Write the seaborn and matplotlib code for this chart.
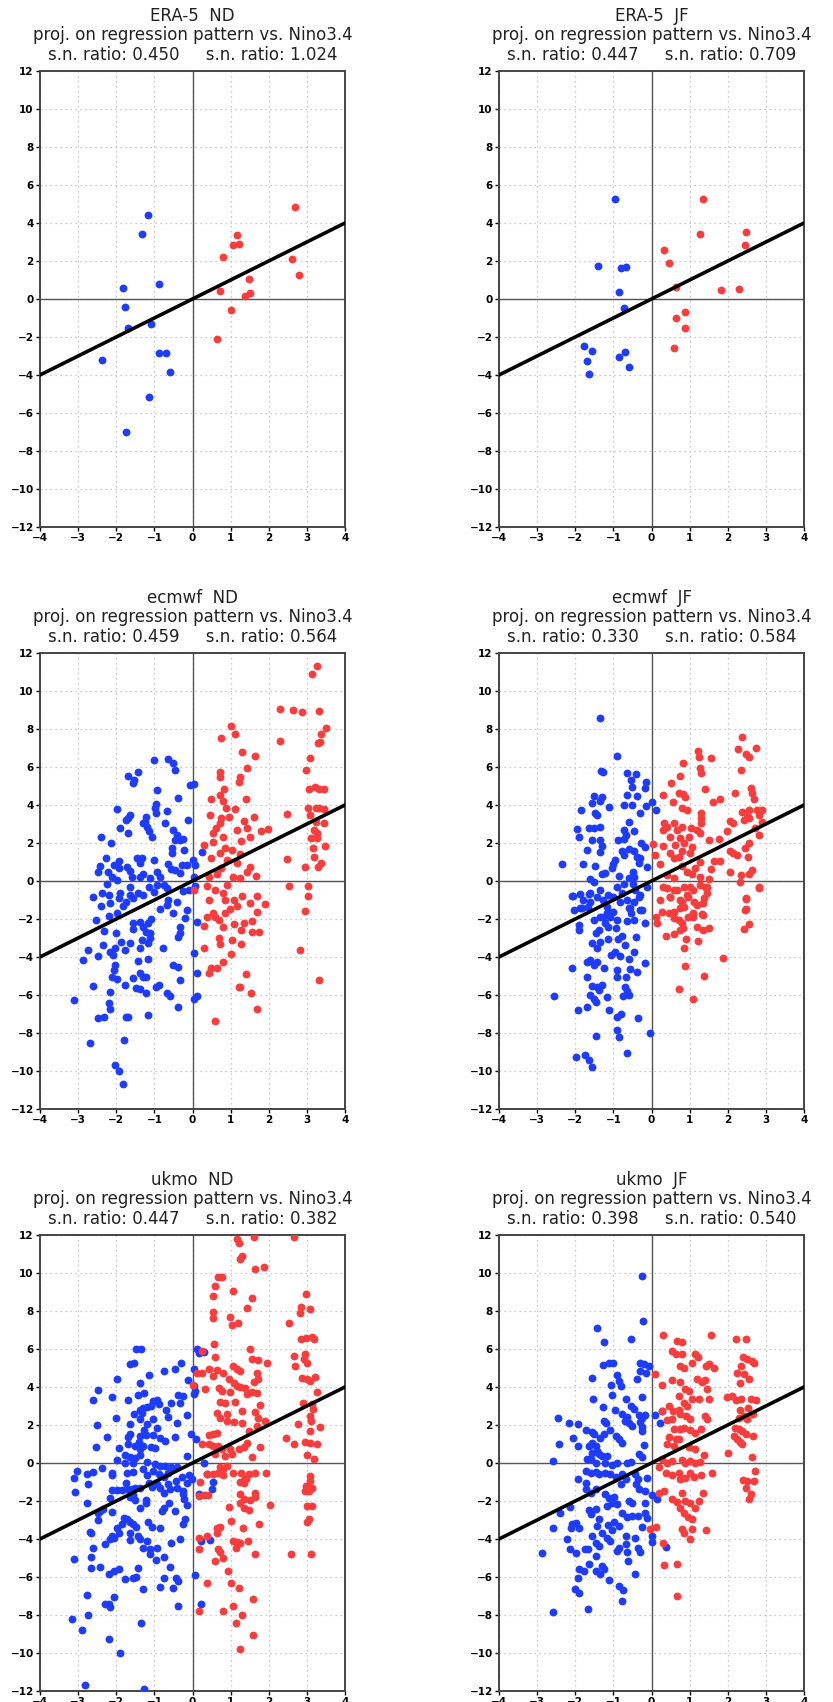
import matplotlib
matplotlib.use("Agg")
import matplotlib.pyplot as plt
import seaborn as sns
import pandas as pd

sns.set_style("white")
plt.rcParams['font.family'] = ['DejaVu Sans']

# panel titles
models = ["ERA-5", "ERA-5", "ecmwf", "ecmwf", "ukmo", "ukmo"]
seasons = ["ND", "JF", "ND", "JF", "ND", "JF"]
sn_left = ["0.450", "0.447", "0.459", "0.330", "0.447", "0.398"]
sn_right = ["1.024", "0.709", "0.564", "0.584", "0.382", "0.540"]

# reference line (slope 1)
ref_x = [-4, 4]
ref_y = [-4, 4]

x_ticks = [-4, -3, -2, -1, 0, 1, 2, 3, 4]
y_ticks = [-12, -10, -8, -6, -4, -2, 0, 2, 4, 6, 8, 10, 12]

# ---- ERA-5 ND
era_nd_blue = [(-1.18, 4.40), (-1.32, 3.44), (-1.81, 0.60), (-0.88, 0.77), (-1.76, -0.44),
               (-1.68, -1.51), (-1.08, -1.33), (-2.37, -3.19), (-0.89, -2.86), (-0.70, -2.86),
               (-0.59, -3.82), (-1.15, -5.18), (-1.75, -7.0)]
era_nd_red = [(2.68, 4.82), (1.16, 3.35), (1.07, 2.82), (1.22, 2.89), (0.79, 2.19), (2.61, 2.12),
              (2.79, 1.25), (1.49, 1.04), (0.72, 0.40), (1.38, 0.14), (1.51, 0.30), (1.00, -0.60),
              (0.64, -2.09)]

# ---- ERA-5 JF
era_jf_blue = [(-0.95, 5.25), (-1.41, 1.75), (-0.80, 1.65), (-0.67, 1.67), (-0.84, 0.35),
               (-0.72, -0.49), (-1.78, -2.49), (-1.57, -2.72), (-1.70, -3.26), (-1.65, -3.96),
               (-0.86, -3.05), (-0.69, -2.81), (-0.59, -3.58)]
era_jf_red = [(1.36, 5.26), (1.27, 3.40), (2.49, 3.53), (2.46, 2.86), (0.33, 2.60), (0.46, 1.89),
              (0.65, 0.61), (1.81, 0.46), (2.30, 0.51), (0.88, -0.70), (0.65, -1.02), (0.89, -1.51),
              (0.58, -2.58)]

# ---- ecmwf ND
ec_nd_blue = [(-1.01, 6.35), (-0.63, 6.44), (-0.52, 6.19), (-0.47, 5.84), (-1.68, 5.54), (-1.43, 5.75),
              (-1.54, 5.32), (-1.57, 5.14), (0.03, 5.09), (-0.06, 5.05), (-0.94, 4.77), (-0.37, 4.37),
              (-0.97, 4.05), (-0.99, 3.82), (-0.96, 3.56), (-1.99, 3.81), (-0.67, 3.67), (-1.64, 3.47),
              (-1.69, 3.30), (-1.74, 3.21), (-1.22, 3.39), (-1.24, 3.12), (-1.19, 2.86), (-1.30, 3.04),
              (-0.11, 3.21), (-1.90, 2.81), (-0.73, 3.04), (-1.70, 2.54), (-1.15, 2.65), (-1.07, 2.33),
              (-2.40, 2.33), (-2.13, 1.98), (-0.50, 2.68), (-0.41, 2.42), (-0.45, 2.16), (-0.32, 2.16),
              (-0.24, 2.21), (-0.54, 1.72), (-0.54, 1.46), (-0.22, 1.63), (0.26, 1.54), (-1.46, 1.19),
              (-1.33, 1.19), (-1.39, 0.93), (-2.27, 1.19), (-1.94, 1.07), (-2.05, 0.84), (-1.94, 0.67),
              (-2.42, 0.81), (-2.47, 0.49), (-2.21, 0.49), (-2.12, 0.23), (-1.97, 0.05), (-1.72, 0.75),
              (-1.63, 0.54), (-1.59, 0.23), (-1.01, 1.11), (-0.94, 0.49), (-0.63, 0.89), (-0.57, 0.61),
              (-1.29, 0.37), (-1.37, 0.23), (-1.11, 0.14), (-0.85, 0.23), (-0.28, 0.84), (-0.15, 0.84),
              (0.01, 1.11), (0.07, 0.84), (-0.45, 0.58), (-0.32, 0.44), (0.03, 0.23),
              (-2.25, -0.16), (-2.60, -0.82), (-2.38, -0.65), (-2.20, -0.74), (-2.16, -1.18), (-1.90, -0.65),
              (-1.94, -0.91), (-1.64, -0.30), (-1.64, -0.74), (-1.74, -1.09), (-1.55, -0.91), (-1.42, -0.65),
              (-1.29, -0.74), (-2.40, -1.32), (-1.81, -1.32), (-1.15, -0.30), (-1.02, -0.56), (-0.94, -0.21),
              (-0.74, -0.21), (-0.67, -0.39), (-0.63, -1.0), (-0.85, -1.49), (-0.67, -1.26), (-0.50, -1.70),
              (-0.41, -1.09), (-0.15, -1.53), (-0.19, -1.96), (0.11, -2.14), (-2.53, -2.05), (-2.18, -1.86),
              (-1.97, -1.70), (-1.37, -2.14), (-1.57, -2.23), (-1.57, -2.54), (-1.29, -2.40), (-1.16, -2.23),
              (-1.08, -2.02), (-1.21, -2.67), (-1.12, -2.75), (-2.33, -2.61), (-2.00, -2.75), (-0.34, -2.40),
              (-0.32, -2.75), (-0.37, -2.96), (-2.35, -3.37), (-1.88, -3.19), (-1.77, -3.63), (-1.64, -3.28),
              (-1.39, -3.54), (-1.33, -3.11), (-1.18, -3.28), (-1.11, -3.02), (-2.73, -3.63), (-2.49, -3.93),
              (-2.16, -3.72), (-2.09, -3.89), (-2.03, -3.54), (-2.03, -4.42), (-2.07, -4.68), (-2.11, -5.04),
              (-1.98, -5.18), (-2.86, -4.16), (-1.42, -4.19), (-1.18, -4.09), (-0.78, -3.54), (0.03, -3.81),
              (-0.50, -4.42), (-0.37, -4.54), (0.11, -4.86), (-1.37, -4.82), (-1.30, -5.07), (-1.21, -5.07),
              (-1.55, -5.12), (-0.32, -5.21), (-0.89, -5.47), (-0.95, -5.56), (-2.62, -5.53), (-1.77, -5.47),
              (-1.49, -5.61), (-1.39, -5.70), (-1.23, -5.91), (-2.16, -5.86), (-0.67, -5.91), (-0.60, -6.04),
              (0.04, -6.23), (0.11, -6.05), (-3.12, -6.26), (-2.20, -6.40), (-2.16, -6.75), (-0.38, -6.61),
              (-2.49, -7.23), (-2.33, -7.18), (-1.74, -7.18), (-1.68, -7.14), (-1.17, -7.05), (-2.69, -8.51),
              (-1.79, -8.37), (-2.03, -9.68), (-1.94, -9.98), (-1.83, -10.68), (-0.10, -0.45), (0.06, -0.25),
              (-0.25, -0.55)]
ec_nd_red = [(3.26, 11.33), (3.13, 10.88), (2.30, 9.07), (2.63, 9.0), (2.86, 8.91), (3.32, 8.96),
             (3.49, 8.04), (3.37, 7.74), (3.29, 7.28), (3.35, 7.33), (2.30, 7.35), (3.07, 6.49),
             (2.99, 5.84), (1.00, 8.18), (1.11, 7.74), (0.76, 7.54), (1.29, 6.81), (1.64, 6.6),
             (1.43, 5.96), (0.73, 5.72), (0.73, 5.49), (1.24, 5.49), (1.23, 5.23), (0.83, 4.82),
             (0.72, 4.53), (0.48, 4.30), (0.80, 4.19), (0.89, 3.82), (1.11, 3.79), (1.41, 4.30),
             (0.46, 3.47), (0.75, 3.30), (0.95, 3.39), (0.71, 3.07), (0.62, 2.81), (1.34, 3.16),
             (1.60, 3.35), (1.42, 2.81), (1.16, 2.68), (1.80, 2.63), (1.99, 2.72), (1.50, 2.33),
             (0.55, 2.51), (0.81, 2.33), (1.28, 2.11), (0.53, 2.07), (0.29, 1.89), (0.86, 1.72),
             (1.03, 1.63), (0.73, 1.46), (1.25, 1.40), (0.48, 1.19), (0.90, 1.11), (1.16, 0.93),
             (1.51, 0.72), (0.75, 0.67), (1.43, 0.49), (1.67, 0.26), (0.64, 0.35), (1.06, 0.23),
             (1.25, 0.14), (0.42, 0.23), (2.48, 3.53), (3.03, 3.86), (3.24, 3.82), (3.33, 3.82),
             (3.46, 3.77), (3.05, 4.82), (3.21, 4.96), (3.33, 4.82), (3.45, 4.84), (3.09, 3.47),
             (3.24, 3.12), (3.44, 3.04), (3.18, 2.68), (3.27, 2.51), (3.11, 2.28), (3.27, 2.25),
             (3.48, 1.86), (3.15, 1.72), (3.18, 1.28), (3.37, 0.93), (2.48, 1.16), (2.96, 0.72),
             (3.29, 0.75),
             (0.38, -0.26), (0.59, -0.47), (0.80, -0.65), (0.90, -0.21), (2.52, -0.26), (3.03, -0.25),
             (3.02, -0.79), (1.31, -0.77), (1.51, -1.18), (1.69, -0.79), (1.91, -1.23), (1.17, -1.32),
             (0.99, -1.49), (0.86, -1.67), (0.55, -1.70), (1.69, -1.65), (2.96, -1.58), (0.38, -1.88),
             (0.69, -2.05), (1.08, -2.28), (1.35, -2.23), (1.56, -2.09), (0.29, -2.35), (0.81, -2.40),
             (1.28, -2.58), (1.56, -2.67), (1.75, -2.70), (0.69, -3.02), (1.03, -3.11), (1.28, -3.33),
             (0.73, -3.33), (0.29, -3.54), (1.01, -3.86), (0.80, -4.25), (0.64, -4.60), (0.42, -4.86),
             (0.49, -4.60), (2.83, -3.61), (1.40, -4.89), (1.21, -5.56), (1.25, -5.6), (1.53, -5.88),
             (3.33, -5.23), (1.69, -6.72), (0.59, -7.35), (0.03, -0.47), (0.42, -1.0), (0.59, -1.88),
             (0.86, -1.0), (1.08, -1.0)]

# ---- ecmwf JF
ec_jf_blue = [(-1.34, 8.60), (-0.90, 6.58), (-1.32, 5.79), (-1.26, 5.75), (-0.65, 5.70), (-0.41, 5.61),
              (-0.54, 5.32), (-0.50, 4.93), (-0.15, 5.23), (-0.16, 4.91), (-0.65, 4.53), (-0.38, 4.47),
              (-1.50, 4.47), (-1.29, 4.44), (-1.36, 4.21), (-1.55, 4.09), (-1.86, 3.72), (-1.11, 3.88),
              (-0.72, 3.98), (-0.52, 4.02), (0.01, 4.18), (-0.15, 3.95), (0.11, 3.74), (-1.48, 3.56),
              (-1.42, 3.47), (-0.31, 3.56), (-1.96, 2.72), (-1.91, 2.30), (-1.65, 2.77), (-1.50, 2.77),
              (-1.36, 2.84), (-0.59, 3.12), (-0.45, 2.65), (-0.73, 2.68), (-0.66, 2.42), (-0.72, 2.21),
              (-1.56, 2.16), (-1.35, 2.16), (-1.29, 1.84), (-0.88, 2.16), (-0.27, 2.02), (-0.17, 1.81),
              (-1.70, 1.63), (-1.35, 1.51), (-0.58, 1.67), (-0.47, 1.60), (-0.38, 1.28), (-0.77, 1.60),
              (-0.73, 1.37), (-0.30, 1.19), (-0.34, 0.93), (-0.12, 0.75), (-2.34, 0.89), (-1.80, 0.89),
              (-1.48, 0.81), (-0.95, 1.11), (-1.0, 0.88), (-1.04, 0.67), (-1.22, 0.44), (-1.30, 0.37),
              (-1.61, 0.09), (-1.50, -0.04), (-0.86, 0.26), (-0.60, 0.14), (-0.49, 0.49), (-0.45, 0.23),
              (-2.07, -0.79), (-1.88, -0.68), (-1.79, -1.0), (-1.61, -0.65), (-1.66, -1.35), (-1.83, -1.44),
              (-2.03, -1.53), (-1.35, -0.47), (-1.26, -1.0), (-1.17, -1.35), (-1.0, -0.82), (-0.91, -0.30),
              (-0.78, -0.65), (-0.65, -1.0), (-0.56, -1.44), (-0.43, -0.47), (-0.34, -0.82), (-0.30, -1.53),
              (-0.12, -0.30), (-1.08, -1.70), (-1.26, -1.88), (-2.09, -0.79), (-1.87, -1.44), (-1.91, -2.32),
              (-1.89, -2.58), (-1.65, -0.68), (-1.61, -1.09), (-1.43, -0.82), (-1.13, -0.74), (-0.73, -0.16),
              (-0.49, -0.18), (-0.82, -1.09), (-0.60, -1.44), (-0.47, -1.09), (-0.30, -0.74), (-0.25, -1.53),
              (-0.54, -1.70), (-1.52, -2.05), (-1.35, -1.88), (-1.17, -1.70), (-1.08, -1.88), (-1.0, -1.61),
              (-0.91, -2.05), (-1.22, -2.23), (-1.14, -2.40), (-1.39, -2.58), (-1.45, -2.75), (-1.57, -3.28),
              (-1.43, -3.54), (-1.35, -3.19), (-0.65, -2.09), (-0.47, -2.05), (-0.40, -2.96), (-0.17, -2.23),
              (-0.93, -2.49), (-1.13, -3.05), (-0.87, -3.05), (-0.78, -2.88), (-0.69, -3.37), (-0.95, -3.72),
              (-1.06, -3.89), (-0.82, -3.93), (-0.47, -3.72), (-0.60, -4.12), (-1.61, -4.16), (-1.43, -4.25),
              (-1.68, -4.25), (-1.52, -4.42), (-1.24, -4.60), (-0.17, -4.33), (-0.56, -4.65), (-0.38, -4.77),
              (-0.91, -4.68), (-0.91, -5.07), (-0.68, -5.07), (-2.08, -4.56), (-1.70, -5.04), (-1.57, -5.53),
              (-1.43, -5.56), (-1.30, -5.49), (-1.39, -5.74), (-0.69, -5.60), (-0.65, -5.77), (-0.58, -5.98),
              (-0.75, -6.05), (-1.61, -6.0), (-1.52, -6.23), (-1.45, -6.35), (-1.16, -6.12), (-2.55, -6.05),
              (-1.92, -6.81), (-1.68, -6.61), (-1.11, -6.79), (-0.91, -7.14), (-0.80, -7.0), (-0.36, -7.21),
              (-0.91, -7.82), (-0.85, -8.23), (-1.45, -8.14), (-0.04, -8.0), (-0.64, -9.04), (-1.98, -9.25),
              (-1.74, -9.14), (-1.64, -9.42), (-1.55, -9.81)]
ec_jf_red = [(2.38, 7.60), (2.27, 6.93), (2.75, 6.98), (2.48, 6.68), (2.55, 6.54), (1.23, 6.86), (1.24, 6.54),
             (1.55, 6.47), (0.82, 6.19), (1.28, 5.93), (1.29, 5.67), (2.35, 5.84), (0.75, 5.54), (0.52, 5.16),
             (1.40, 4.84), (0.31, 4.53), (0.71, 4.65), (0.82, 4.58), (0.87, 4.44), (1.80, 4.33), (1.61, 4.16),
             (2.20, 4.65), (2.61, 4.91), (2.63, 4.61), (2.68, 4.30), (0.56, 4.18), (0.80, 3.82), (0.93, 3.74),
             (1.30, 3.60), (1.31, 3.30), (1.31, 3.07), (2.37, 3.65), (2.57, 3.74), (2.50, 3.47), (2.76, 3.74),
             (2.90, 3.74), (2.81, 3.47), (2.55, 3.30), (2.43, 3.21), (2.06, 3.18), (2.15, 3.04), (2.90, 3.12),
             (2.72, 2.77), (2.81, 2.42), (0.33, 3.07), (0.31, 2.68), (0.40, 2.86), (0.58, 3.07), (0.66, 2.68),
             (0.80, 2.86), (1.04, 2.77), (1.19, 2.68), (1.28, 2.51), (0.99, 2.30), (1.98, 2.63), (1.78, 2.23),
             (1.50, 2.16), (0.49, 2.33), (0.75, 2.25), (0.84, 2.02), (0.05, 1.93), (0.31, 1.84), (0.62, 1.89),
             (2.55, 1.98), (2.46, 1.72), (2.06, 1.60), (2.15, 1.46), (2.25, 1.37), (2.52, 1.28), (1.06, 1.81),
             (1.02, 1.46), (0.80, 1.60), (0.49, 1.46), (0.58, 1.19), (0.71, 1.28), (0.10, 1.35), (0.23, 0.89),
             (1.63, 1.05), (1.80, 1.05), (1.26, 1.02), (1.15, 0.70), (0.80, 0.81), (0.93, 0.49), (1.06, 0.37),
             (1.56, 0.61), (2.06, 0.49), (2.36, 0.30), (1.28, 0.23), (1.50, 0.09), (0.40, 0.32), (0.58, 0.14),
             (2.63, 0.58), (2.57, 0.37),
             (0.31, -0.30), (0.58, -0.47), (0.84, -0.33), (1.10, -0.47), (1.28, -0.21), (1.45, -0.30),
             (2.33, -0.04), (2.81, -0.33), (2.48, -0.91), (2.48, -1.49), (0.23, -1.0), (0.49, -0.82),
             (0.80, -1.09), (0.97, -0.82), (1.19, -1.26), (1.38, -0.91), (1.45, -0.65), (0.58, -1.61),
             (0.75, -1.44), (1.10, -1.70), (1.36, -1.79), (0.14, -2.23), (0.12, -1.88), (0.27, -1.61),
             (0.38, -2.89), (0.58, -2.81), (0.47, -1.70), (0.58, -1.96), (0.71, -2.05), (0.80, -2.23),
             (0.82, -2.49), (0.75, -2.58), (0.91, -3.07), (0.84, -3.53), (0.97, -1.88), (1.10, -1.88),
             (1.19, -2.44), (1.35, -2.58), (1.51, -2.49), (1.23, -3.16), (1.32, -1.75), (1.12, -1.12),
             (1.36, -1.16), (2.47, -0.95), (2.46, -1.53), (2.55, -2.26), (2.42, -2.53), (2.81, -0.37),
             (1.87, -4.04), (0.87, -4.49), (1.39, -5.02), (0.73, -5.67), (1.10, -6.21), (1.41, -0.30),
             (1.01, -0.30), (0.66, -0.47), (0.40, -0.39), (0.49, -0.82), (0.75, -1.0), (0.93, -0.74),
             (0.84, -1.35)]

# ---- ukmo ND
uk_nd_blue = [(-1.49, 6.02), (-1.35, 5.98), (0.11, 5.98), (0.16, 5.77), (0.31, 5.84), (-1.64, 5.19),
              (-1.53, 5.28), (-0.30, 5.28), (-0.46, 4.93), (-0.76, 4.84), (0.04, 4.96), (-1.13, 4.61),
              (-1.97, 4.44), (-1.37, 4.19), (-0.13, 4.37), (0.05, 4.05), (0.07, 3.79), (0.03, 3.61),
              (-2.47, 3.82), (-2.60, 3.30), (-2.12, 3.47), (-1.68, 3.32), (-1.42, 3.56), (-1.27, 3.68),
              (-0.94, 3.30), (-0.89, 3.09), (-1.03, 3.26), (-1.08, 3.02), (-1.20, 2.96), (-1.30, 2.91),
              (-1.37, 2.79), (-0.37, 3.56), (-0.24, 3.53), (-0.32, 3.18), (-0.57, 3.18), (-0.70, 2.77),
              (-1.53, 2.58), (-1.33, 2.61), (-1.37, 2.30), (-0.15, 2.53), (-2.00, 2.39), (-0.63, 2.44),
              (-0.41, 2.12), (-1.03, 2.33), (-0.92, 1.86), (-1.20, 2.04), (-1.26, 1.74), (-1.22, 1.47),
              (-1.65, 2.04), (-2.50, 1.98), (-2.23, 1.39), (-1.68, 1.39), (-1.64, 1.51), (-1.37, 1.42),
              (-1.41, 1.11), (-1.29, 0.89), (-1.03, 1.47), (-0.85, 1.33), (-0.72, 1.16), (-1.08, 0.86),
              (-0.98, 0.81), (-0.47, 1.39), (-0.03, 1.54), (0.10, 1.25), (-2.53, 0.84), (-1.94, 0.81),
              (-1.68, 0.98), (-1.52, 0.89), (-1.37, 0.75), (-1.78, 0.44), (-1.64, 0.33), (-1.50, 0.28),
              (-1.37, 0.40), (-1.97, 0.16), (-1.77, -0.02), (-1.55, -0.02), (-0.15, 0.37), (-1.20, 0.05),
              (-0.98, -0.07), (-0.85, -0.16), (-0.72, -0.16), (-0.57, -0.19), (-0.41, -0.19), (0.29, -0.02),
              (-3.12, -0.77), (-3.03, -0.42), (-2.77, -0.60), (-2.62, -0.47), (-2.38, -0.28), (-2.12, -0.51),
              (-2.12, -0.65), (-1.72, -0.51), (-1.55, -0.47), (-1.29, -0.33), (-1.20, -0.65), (-1.03, -0.42),
              (-0.89, -0.60), (-0.74, -0.72), (-0.63, -0.54), (-0.28, -0.72), (-0.10, -0.65), (-0.02, -0.86),
              (-0.15, -1.04), (0.38, -0.60), (0.55, -1.0), (-3.08, -1.53), (-2.75, -1.12), (-2.77, -2.12),
              (-2.12, -1.42), (-1.99, -1.44), (-1.85, -1.42), (-1.74, -1.04), (-1.72, -1.39), (-1.59, -1.39),
              (-1.50, -1.30), (-1.37, -1.30), (-1.57, -1.70), (-1.50, -1.95), (-1.65, -1.77), (-1.15, -1.07),
              (-1.07, -1.25), (-0.94, -1.12), (-0.85, -1.30), (-0.76, -1.56), (-0.63, -1.12), (-0.59, -1.35),
              (-0.43, -0.95), (-0.41, -1.33), (-0.24, -1.47), (-0.25, -1.65), (-0.21, -1.91), (-0.15, -2.23),
              (0.16, -1.65), (0.51, -1.35), (-2.16, -1.82), (-1.22, -1.95), (-1.22, -2.12), (-1.37, -2.35),
              (-0.61, -2.09), (-0.76, -2.35), (-0.80, -2.53), (-0.47, -2.53), (-2.34, -2.44), (-2.43, -2.53),
              (-2.47, -2.61), (-2.12, -2.58), (-1.80, -2.88), (-1.72, -2.96), (-1.64, -3.11), (-1.55, -3.23),
              (-1.47, -3.35), (-1.85, -3.23), (-1.99, -3.40), (-1.94, -3.67), (-0.19, -2.96), (-0.24, -3.23),
              (-2.47, -3.0), (-2.69, -3.63), (-2.65, -3.70), (-2.12, -3.84), (-2.07, -3.95), (-2.16, -4.02),
              (-2.29, -4.28), (-1.64, -3.70), (-1.64, -4.05), (-1.42, -3.84), (-1.39, -4.02), (-1.17, -3.11),
              (-1.07, -3.35), (-0.85, -3.44), (-1.20, -4.11), (-0.94, -4.46), (-1.12, -4.51), (-1.29, -4.46),
              (-1.12, -4.77), (-0.57, -4.19), (-0.32, -4.02), (0.23, -4.12), (0.46, -4.07), (-2.60, -4.49),
              (-2.66, -4.95), (-3.11, -5.07), (-2.65, -5.51), (-2.42, -5.46), (-2.18, -5.82), (-2.05, -5.68),
              (-1.92, -5.60), (-1.44, -5.51), (-0.95, -5.12), (-0.74, -4.95), (-0.59, -5.46), (-1.77, -6.12),
              (-1.55, -6.05), (-1.48, -6.0), (-0.74, -6.05), (-0.43, -6.05), (-0.37, -6.21), (0.06, -5.91),
              (-1.29, -6.61), (-0.84, -6.51), (-0.52, -6.56), (-2.77, -6.95), (-2.07, -7.04), (-2.29, -7.44),
              (-2.20, -7.40), (-2.16, -7.58), (-0.38, -7.53), (0.23, -7.44), (-2.73, -8.02), (-3.17, -8.23),
              (-1.35, -8.40), (-2.89, -8.79), (-2.19, -9.25), (-1.90, -9.98), (-2.82, -11.70), (-1.27, -11.88)]
uk_nd_red = [(1.17, 11.77), (1.21, 11.60), (1.62, 11.89), (2.67, 11.89), (1.25, 10.75), (1.31, 10.89),
             (1.65, 10.19), (1.87, 10.33), (0.68, 9.79), (0.78, 9.79), (0.59, 9.30), (1.05, 9.04),
             (0.55, 8.77), (2.98, 8.89), (1.57, 8.70), (2.85, 8.21), (3.07, 8.12), (2.83, 7.91),
             (0.55, 7.95), (0.55, 7.63), (1.43, 8.14), (0.99, 7.70), (1.03, 7.25), (1.20, 7.35),
             (2.52, 7.39), (2.85, 6.51), (2.98, 6.60), (3.13, 6.65), (3.18, 6.51), (0.57, 6.25),
             (0.24, 5.89), (0.60, 5.58), (1.52, 5.98), (1.57, 5.49), (1.73, 5.40), (1.95, 5.28),
             (2.65, 5.63), (2.69, 5.11), (2.96, 5.72), (2.92, 5.46), (3.0, 5.28), (1.06, 5.11),
             (1.16, 4.93), (1.25, 4.82), (0.42, 4.96), (0.64, 4.88), (0.79, 4.75), (0.11, 4.75),
             (0.26, 4.75), (0.53, 4.58), (0.96, 4.44), (1.69, 4.75), (1.73, 4.40), (2.87, 4.49),
             (3.0, 4.40), (3.09, 4.32), (3.22, 4.54), (0.0, 4.09), (0.33, 3.88), (0.69, 3.93),
             (0.77, 3.79), (1.08, 4.23), (1.16, 4.05), (1.25, 4.0), (0.99, 3.75), (1.38, 3.93),
             (1.62, 4.26), (1.55, 3.75), (1.68, 3.70), (1.43, 3.61), (3.26, 3.74), (2.90, 3.18),
             (3.13, 3.09), (3.17, 2.82), (0.73, 3.21), (0.86, 3.18), (1.12, 3.23), (1.78, 3.04),
             (1.30, 2.74), (1.64, 2.68), (0.64, 2.65), (0.90, 2.56), (3.09, 2.47), (3.11, 2.21),
             (1.73, 2.39), (1.69, 1.95), (1.90, 2.21), (0.73, 2.39), (0.90, 2.21), (1.08, 2.16),
             (1.30, 2.12), (2.77, 2.07), (3.35, 1.89), (3.09, 1.68), (1.48, 1.68), (0.42, 1.47),
             (0.53, 1.51), (0.64, 1.56), (2.46, 1.30), (2.65, 1.02), (2.96, 1.11), (3.09, 1.04),
             (3.26, 1.02), (0.24, 0.98), (0.42, 0.98), (0.55, 0.89), (0.68, 0.89), (0.77, 0.72),
             (0.99, 0.75), (1.21, 0.72), (1.34, 0.84), (1.43, 1.07), (1.78, 0.84), (0.59, 0.46),
             (0.86, 0.37), (1.03, 0.46), (1.55, 0.32), (3.0, 0.40), (3.18, 0.19),
             (0.73, -0.19), (0.90, -0.16), (0.38, -0.60), (0.55, -0.60), (0.68, -0.51), (0.81, -0.33),
             (0.81, -0.65), (1.05, -0.51), (1.28, -0.54), (1.38, -0.77), (1.47, -0.60), (1.64, -0.54),
             (1.93, -0.54), (1.25, -1.0), (1.36, -1.04), (1.41, -0.82), (0.20, -0.98), (3.09, -0.68),
             (3.07, -0.95), (3.13, -1.30), (2.99, -1.21), (2.96, -1.47), (3.05, -1.47), (0.18, -1.74),
             (0.29, -1.70), (0.40, -1.70), (1.25, -1.61), (1.34, -1.91), (1.64, -1.56), (1.64, -1.77),
             (1.50, -1.95), (2.04, -2.21), (0.95, -2.32), (1.24, -2.09), (1.34, -2.35), (1.48, -2.49),
             (3.0, -2.26), (3.13, -2.26), (1.00, -3.05), (3.0, -3.09), (3.05, -2.96), (1.75, -3.23),
             (0.64, -3.40), (0.73, -3.37), (0.64, -3.67), (1.32, -3.44), (0.16, -3.96), (0.38, -3.84),
             (1.05, -4.11), (1.16, -4.14), (1.25, -4.23), (1.14, -4.46), (1.45, -4.12), (0.17, -4.54),
             (0.66, -4.51), (0.73, -4.68), (0.80, -5.0), (0.59, -5.16), (1.65, -4.81), (2.58, -4.81),
             (3.11, -4.77), (0.94, -5.68), (0.38, -6.30), (1.00, -6.30), (1.21, -6.56), (0.17, -7.79),
             (0.81, -7.79), (1.05, -7.53), (1.30, -8.0), (1.14, -8.40), (1.58, -7.18), (1.58, -9.07),
             (1.25, -9.81)]

# ---- ukmo JF
uk_jf_blue = [(-0.24, 9.84), (-0.21, 7.47), (-1.43, 7.12), (-1.24, 6.37), (-0.54, 6.54), (-1.27, 5.14),
              (-1.12, 5.28), (-1.01, 5.25), (-0.29, 5.28), (-0.20, 5.19), (-0.07, 5.11), (-0.29, 4.84),
              (-0.15, 4.75), (-0.37, 4.40), (-1.57, 4.47), (-0.90, 4.61), (-0.86, 4.32), (-0.81, 4.05),
              (-1.05, 4.11), (-1.53, 3.39), (-1.03, 3.56), (-0.68, 3.39), (-0.55, 3.0), (-0.46, 2.86),
              (-0.24, 3.46), (-1.28, 2.95), (-0.97, 2.79), (-0.77, 2.56), (-0.64, 2.44), (-0.70, 2.21),
              (-0.60, 2.12), (-0.51, 1.95), (-0.33, 2.51), (-0.24, 2.39), (-0.16, 2.51), (-0.29, 2.16),
              (-0.24, 1.91), (-0.24, 1.68), (0.08, 2.51), (0.28, 2.74), (0.21, 2.09), (-2.45, 2.35),
              (-2.17, 2.12), (-1.92, 2.07), (-1.25, 2.21), (-1.19, 2.09), (-1.71, 1.74), (-1.57, 1.63),
              (-1.51, 1.51), (-1.08, 1.74), (-0.94, 1.42), (-0.85, 1.28), (-0.78, 1.07), (-1.25, 1.54),
              (-1.34, 1.30), (-2.06, 1.33), (-2.43, 1.0), (-1.93, 0.89), (-1.64, 0.89), (-1.55, 1.07),
              (-1.46, 0.89), (-1.43, 0.63), (-1.55, 0.54), (-1.38, 0.46), (-1.29, 0.37), (-1.16, 0.37),
              (-0.20, 0.95), (-0.33, 0.46), (-0.24, 0.33), (-2.58, 0.11), (-1.69, 0.19), (-1.60, 0.19),
              (-1.46, -0.02), (-1.21, 0.02), (-1.03, -0.12), (-0.90, -0.02), (-0.64, -0.02), (-0.55, 0.05),
              (-1.71, -0.42), (-1.60, -0.51), (-1.46, -0.47), (-1.38, -0.60), (-1.22, -0.51), (-1.08, -0.60),
              (-0.94, -0.72), (-0.77, -0.60), (-0.68, -0.86), (-0.79, -1.12), (-0.42, -0.60), (-0.35, -0.86),
              (-0.40, -1.12), (-0.33, -1.39), (-0.17, -1.47), (-0.11, -0.77), (-1.93, -0.86), (-1.71, -1.04),
              (-1.71, -1.39), (-1.60, -1.56), (-1.46, -1.39), (-1.21, -1.65), (-1.12, -1.82), (-0.99, -1.77),
              (-1.03, -2.09), (-0.90, -2.18), (-1.16, -2.26), (-0.59, -2.0), (-0.52, -2.12), (-0.17, -2.12),
              (0.02, -1.70), (0.15, -1.91), (-2.13, -2.32), (-2.39, -2.61), (-1.65, -2.47), (-1.46, -2.44),
              (-1.60, -2.70), (-1.38, -2.96), (-1.43, -3.32), (-0.77, -2.65), (-0.64, -2.82), (-0.51, -2.79),
              (-0.35, -2.79), (-0.16, -2.65), (-0.11, -2.88), (-0.24, -3.37), (-1.14, -3.28), (-0.99, -3.11),
              (-0.86, -3.32), (-1.03, -3.53), (-1.30, -3.67), (-1.16, -3.93), (-1.08, -4.11), (-2.59, -3.44),
              (-2.08, -3.23), (-1.99, -3.14), (-1.91, -3.40), (-2.10, -3.40), (-2.21, -4.02), (-1.56, -3.84),
              (-1.46, -4.19), (-1.38, -4.37), (-1.46, -4.89), (-0.68, -3.84), (-0.42, -3.93), (-0.68, -4.28),
              (0.0, -3.84), (0.02, -4.16), (0.38, -4.42), (-2.87, -4.72), (-2.13, -4.54), (-1.99, -4.72),
              (-1.75, -4.51), (-1.66, -4.51), (-0.90, -4.63), (-0.86, -4.46), (-0.65, -4.68), (-0.36, -4.46),
              (-0.31, -4.68), (-0.62, -5.16), (-1.91, -5.60), (-1.78, -5.68), (-1.64, -5.33), (-1.46, -5.68),
              (-1.29, -5.42), (-1.25, -5.60), (-1.92, -6.04), (-1.36, -5.86), (-1.12, -6.16), (-0.42, -5.82),
              (-0.86, -6.47), (-0.75, -6.68), (-0.77, -7.26), (-2.01, -6.65), (-1.91, -6.82), (-2.58, -7.84),
              (-1.66, -7.67)]
uk_jf_red = [(0.29, 6.75), (1.57, 6.72), (2.22, 6.54), (2.49, 6.51), (0.66, 6.42), (0.81, 6.39), (0.54, 5.89),
             (0.80, 5.72), (0.63, 5.75), (1.15, 5.72), (1.22, 5.60), (1.05, 5.25), (0.76, 5.11), (0.85, 5.02),
             (1.43, 5.11), (1.63, 5.02), (1.50, 5.19), (2.41, 5.60), (2.51, 5.49), (2.64, 5.37), (2.69, 5.25),
             (2.34, 5.11), (2.25, 4.75), (2.42, 4.67), (2.31, 4.23), (2.55, 4.40), (0.10, 4.67), (0.28, 4.12),
             (0.54, 4.37), (0.76, 4.26), (0.88, 3.88), (0.98, 3.79), (1.20, 4.40), (1.33, 4.26), (1.41, 4.37),
             (1.46, 3.88), (0.72, 3.53), (0.85, 3.18), (0.94, 3.0), (1.07, 3.35), (1.24, 3.39), (1.50, 3.39),
             (1.99, 3.49), (2.12, 3.53), (2.21, 3.32), (2.34, 3.39), (2.60, 3.35), (2.73, 3.32), (0.47, 3.0),
             (0.56, 2.74), (0.72, 2.79), (0.28, 2.74), (0.41, 2.25), (0.54, 2.30), (0.76, 2.56), (0.90, 2.47),
             (1.02, 2.30), (1.41, 2.47), (1.46, 2.30), (1.29, 1.81), (2.54, 2.91), (2.33, 2.77), (2.42, 2.47),
             (2.51, 2.30), (2.29, 2.39), (2.67, 2.56), (2.20, 1.86), (2.29, 1.77), (2.38, 1.68), (2.17, 1.42),
             (2.23, 1.25), (2.31, 1.11), (2.38, 0.98), (2.65, 1.42), (2.47, 1.51), (0.59, 1.81), (0.76, 1.81),
             (0.85, 1.86), (1.02, 1.74), (1.15, 1.60), (0.45, 1.39), (0.63, 1.25), (0.72, 1.25), (0.41, 0.98),
             (0.59, 0.89), (0.98, 0.86), (1.15, 0.75), (1.39, 0.40), (2.0, 0.54), (2.64, 0.33), (0.28, 0.19),
             (0.19, -0.19), (0.41, 0.02), (0.54, 0.11), (0.80, 0.16), (0.89, -0.02), (1.02, 0.11), (1.15, -0.02),
             (1.26, 0.05), (0.37, -0.51), (0.54, -0.65), (0.72, -0.54), (0.76, -0.86), (0.89, -0.77),
             (1.02, -0.51), (1.11, -0.72), (1.29, -0.65), (1.59, -0.54), (2.71, -0.42), (2.69, -0.95),
             (2.51, -0.95), (2.41, -0.89), (2.49, -1.30), (2.60, -1.65), (2.57, -1.91), (1.35, -1.56),
             (0.19, -1.56), (0.32, -1.47), (0.54, -1.88), (0.68, -2.05), (0.80, -1.56), (0.89, -2.0),
             (1.02, -2.09), (1.15, -2.35), (1.24, -2.0), (0.76, -2.35), (0.85, -2.65), (0.96, -2.82),
             (1.07, -2.96), (0.80, -3.49), (0.85, -3.70), (1.05, -3.49), (1.02, -4.02), (1.44, -3.53),
             (-0.03, -3.49), (0.13, -3.35), (0.30, -4.19), (0.34, -5.39), (0.66, -5.33), (0.68, -7.0)]

panels = [(era_nd_blue, era_nd_red), (era_jf_blue, era_jf_red),
          (ec_nd_blue, ec_nd_red), (ec_jf_blue, ec_jf_red),
          (uk_nd_blue, uk_nd_red), (uk_jf_blue, uk_jf_red)]

blue = "#1e3cff"
red = "#fa3c3c"

W, H = 833, 1702
fig = plt.figure(figsize=(W / 100, H / 100), dpi=100)
col_left = [40, 499]
row_top = [71, 653, 1235]
ax_w, ax_h = 305, 456

for i, (neg, pos) in enumerate(panels):
    r, c = divmod(i, 2)
    ax = fig.add_axes([col_left[c] / W, 1 - (row_top[r] + ax_h) / H, ax_w / W, ax_h / H])

    ax.set_xticks(x_ticks)
    ax.set_yticks(y_ticks)
    ax.grid(True, color="#b8b8b8", linestyle=(0, (1, 3)), linewidth=0.9)
    ax.axhline(0, color="#555555", lw=1.0, zorder=1)
    ax.axvline(0, color="#555555", lw=1.0, zorder=1)

    dneg = pd.DataFrame(neg, columns=["x", "y"])
    dpos = pd.DataFrame(pos, columns=["x", "y"])
    sns.scatterplot(data=dneg, x="x", y="y", color=blue, s=32, linewidth=0, ax=ax, zorder=3)
    sns.scatterplot(data=dpos, x="x", y="y", color=red, s=32, linewidth=0, ax=ax, zorder=3)
    sns.lineplot(x=ref_x, y=ref_y, color="black", lw=2.6, ax=ax, zorder=4)

    ax.set_xlim(-4, 4)
    ax.set_ylim(-12, 12)
    ax.set_xlabel("")
    ax.set_ylabel("")
    ax.tick_params(axis="both", direction="out", length=3, width=1, pad=1.5,
                   labelsize=7.5, colors="black", bottom=True, left=True)
    for lab in ax.get_xticklabels() + ax.get_yticklabels():
        lab.set_fontweight("bold")
    for sp in ax.spines.values():
        sp.set_color("#444444")
        sp.set_linewidth(1.4)

    title = (f"{models[i]}  {seasons[i]}\n"
             f"proj. on regression pattern vs. Nino3.4\n"
             f"s.n. ratio: {sn_left[i]}     s.n. ratio: {sn_right[i]}")
    ax.set_title(title, fontsize=12, linespacing=1.12, pad=8, color="#222222")

fig.savefig("out.png", dpi=100)
